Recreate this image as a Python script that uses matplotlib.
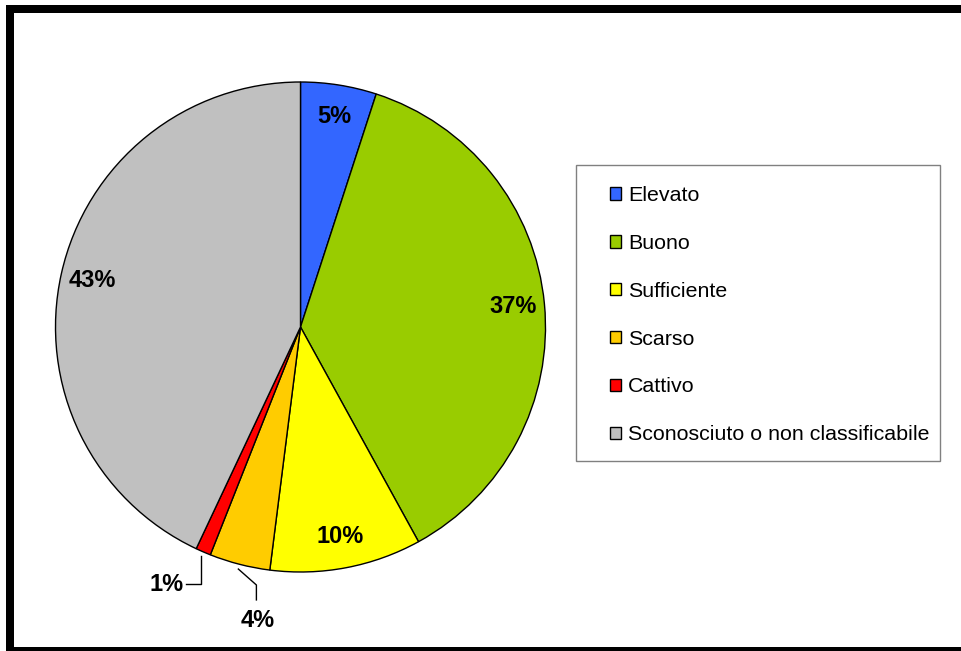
import matplotlib.pyplot as plt
import numpy as np
from matplotlib.patches import Patch, Rectangle

plt.rcParams['font.family'] = ['Liberation Sans', 'DejaVu Sans']

categories = ["Elevato", "Buono", "Sufficiente", "Scarso", "Cattivo",
              "Sconosciuto o non classificabile"]
values = [5, 37, 10, 4, 1, 43]
colors = ["#3366FF", "#99CC00", "#FFFF00", "#FFCC00", "#FF0000", "#C0C0C0"]

W, H = 962, 651
fig = plt.figure(figsize=(W / 100, H / 100), dpi=100)

# pie axes: centre (300, 327) px, radius ~245 px
ax = fig.add_axes([55 / W, (H - 572) / H, 491 / W, 490 / H])

wedges, _ = ax.pie(values, colors=colors, startangle=90, counterclock=False,
                   radius=1, wedgeprops=dict(edgecolor='black', linewidth=1))
ax.set_xlim(-1, 1)
ax.set_ylim(-1, 1)
ax.set_aspect('equal')
ax.axis('off')

lbl = dict(fontsize=17, fontweight='bold', ha='center', va='center')
for w, v in zip(wedges, values):
    mid = np.deg2rad((w.theta1 + w.theta2) / 2)
    if v >= 5:
        ax.text(0.87 * np.cos(mid), 0.87 * np.sin(mid), f"{v}%", **lbl)

# leader lines for the thin slices
mid1 = np.deg2rad((wedges[4].theta1 + wedges[4].theta2) / 2)
x0, y0 = 1.02 * np.cos(mid1), 1.02 * np.sin(mid1)
ax.plot([x0, x0, -0.469], [y0, -1.049, -1.049], color='black', lw=1, clip_on=False)
ax.text(-0.478, -1.049, f"{values[4]}%", fontsize=17, fontweight='bold',
        ha='right', va='center')

mid4 = np.deg2rad((wedges[3].theta1 + wedges[3].theta2) / 2)
x0, y0 = 1.02 * np.cos(mid4), 1.02 * np.sin(mid4)
ax.plot([x0, -0.180, -0.180], [y0, -1.053, -1.114], color='black', lw=1, clip_on=False)
ax.text(-0.176, -1.196, f"{values[3]}%", **lbl)

# legend box
fig.patches.append(Rectangle((576, H - 461), 364, 296, transform=None,
                             facecolor='white', edgecolor='#808080', lw=1))
handles = [Patch(facecolor=c, edgecolor='black', lw=1) for c in colors]
fig.legend(handles, categories, loc='upper left',
           bbox_to_anchor=(610 / W, (H - 186) / H), frameon=False,
           fontsize=15.4, handlelength=0.52, handleheight=0.52,
           handletextpad=0.33, labelspacing=1.35, borderpad=0, borderaxespad=0)

# thick outer frame
fig.patches.append(Rectangle((10, 0), 980, 642, transform=None, fill=False,
                             edgecolor='black', lw=5.76, clip_on=False))

fig.savefig('out.png', dpi=100)
